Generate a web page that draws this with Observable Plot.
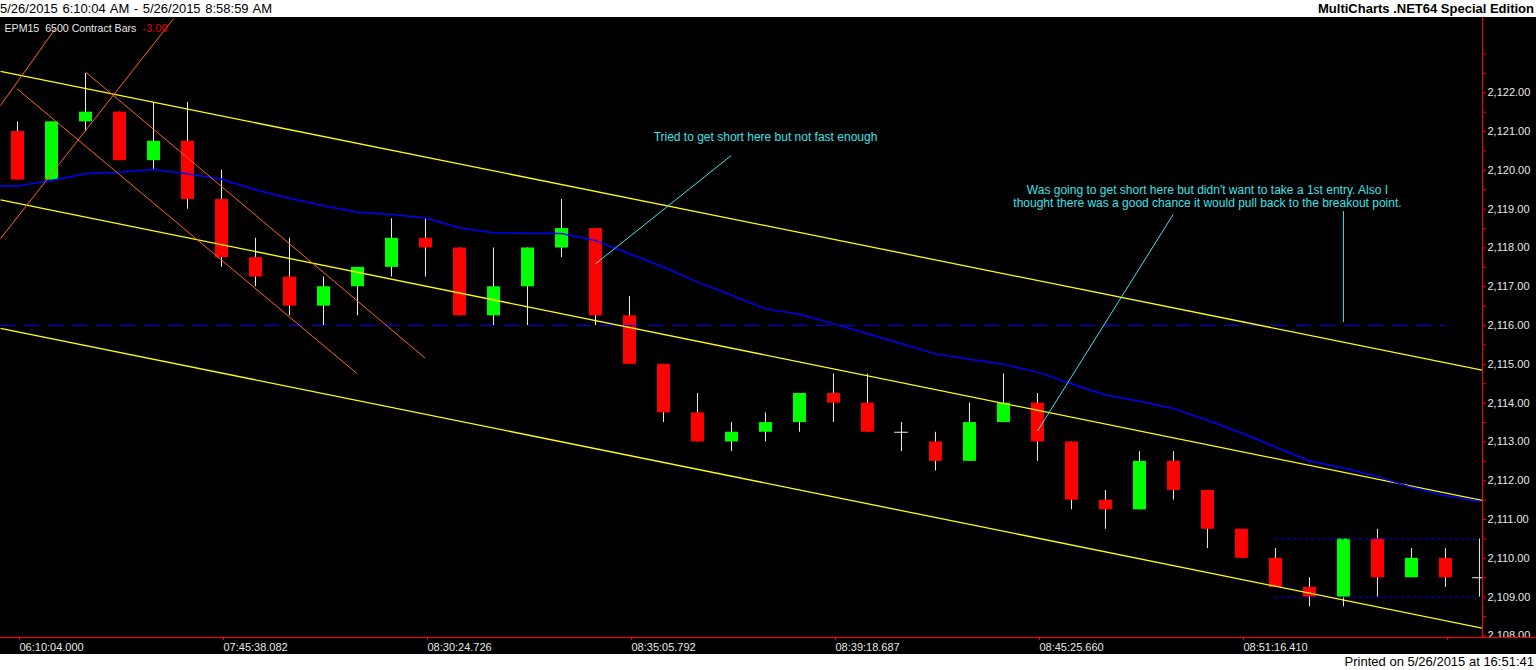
<!DOCTYPE html>
<html><head><meta charset="utf-8">
<script src="https://cdn.jsdelivr.net/npm/d3@7"></script>
<script src="https://cdn.jsdelivr.net/npm/@observablehq/plot@0.6"></script>
<style>
html,body{margin:0;padding:0;background:#fff;width:1536px;height:670px;overflow:hidden}
#hdr{height:17px;display:flex;justify-content:space-between;align-items:center;color:#000}
#hl{font:13px "Liberation Sans",Arial,sans-serif;word-spacing:1px;padding-left:0}
#hr{font:bold 13px "Liberation Sans",Arial,sans-serif;padding-right:2px}
#chart{height:637px;background:#000}
#chart svg{display:block}
#ftr{height:16px;line-height:17px;text-align:right;font:13px "Liberation Sans",Arial,sans-serif;padding-right:2px;color:#000}
</style></head><body>
<div id="hdr"><span id="hl">5/26/2015 6:10:04 AM - 5/26/2015 8:58:59 AM</span><span id="hr">MultiCharts .NET64 Special Edition</span></div>
<div id="chart"></div>
<div id="ftr">Printed on 5/26/2015 at 16:51:41</div>
<script>
// ---- data ----
const opens  = [2121,2119.75,2121.25,2121.5,2120.25,2120.75,2119.25,2117.75,2117.25,2116.5,2117,2117.5,2118.25,2118,2116.25,2117,2118,2118.5,2116.25,2115,2113.75,2113,2113.25,2113.5,2114.25,2114,2113.25,2113,2112.5,2113.5,2114,2113,2111.5,2111.25,2112.5,2111.75,2110.75,2110,2109.25,2109,2110.5,2109.5,2110,2109.5];
const highs  = [2121.25,2121.25,2122.5,2121.5,2121.75,2121.75,2120,2118.25,2118.25,2117.25,2117.5,2118.75,2118.75,2118,2118,2118,2119.25,2118.5,2116.75,2115,2114.25,2113.5,2113.75,2114.25,2114.75,2114.75,2113.5,2113.25,2114,2114.75,2114.25,2113,2111.75,2112.75,2112.75,2111.75,2110.75,2110.25,2109.5,2110.5,2110.75,2110.25,2110.25,2110.5];
const lows   = [2119.75,2119.75,2121,2120.25,2120,2119,2117.5,2117,2116.25,2116,2116.25,2117.25,2117.25,2116.25,2116,2116,2117.75,2116,2115,2113.5,2113,2112.75,2113,2113.25,2113.5,2113.25,2112.75,2112.25,2112.5,2113.5,2112.5,2111.25,2110.75,2111.25,2111.5,2110.25,2110,2109.25,2108.75,2108.75,2109,2109.5,2109.25,2109];
const closes = [2119.75,2121.25,2121.5,2120.25,2120.75,2119.25,2117.75,2117.25,2116.5,2117,2117.5,2118.25,2118,2116.25,2117,2118,2118.5,2116.25,2115,2113.75,2113,2113.25,2113.5,2114.25,2114,2113.25,2113.25,2112.5,2113.5,2114,2113,2111.5,2111.25,2112.5,2111.75,2110.75,2110,2109.25,2109,2110.5,2109.5,2110,2109.5,2109.5];

// moving average, first value belongs to the bar just left of the visible range (bar 0)
const maFirstBar = 0;
const maValues = [2119.60,2119.60,2119.74,2119.91,2119.95,2120.02,2119.91,2119.77,2119.50,2119.28,2119.09,2118.92,2118.86,2118.77,2118.52,2118.39,2118.38,2118.37,2118.19,2117.85,2117.51,2117.12,2116.78,2116.43,2116.29,2116.05,2115.79,2115.53,2115.27,2115.13,2115.00,2114.80,2114.50,2114.21,2114.05,2113.86,2113.56,2113.23,2112.87,2112.51,2112.33,2112.11,2111.83,2111.62,2111.47];

// drawn trendlines (bar index, price)
const yellowLines = [
  {x1: 0.5, y1: 2122.55, x2: 44.09, y2: 2114.85},
  {x1: 0.5, y1: 2119.24, x2: 44.09, y2: 2111.49},
  {x1: 0.5, y1: 2115.93, x2: 44.09, y2: 2108.20}
];
const orangeLines = [
  {x1: 0.5, y1: 2121.67, x2: 2.12, y2: 2123.66},
  {x1: 0.5, y1: 2118.24, x2: 5.59, y2: 2123.91},
  {x1: 0.99, y1: 2122.10, x2: 10.99, y2: 2114.76},
  {x1: 3.01, y1: 2122.53, x2: 12.98, y2: 2115.17}
];
const cyanLines = [
  {x1: 18.0, y1: 2117.59, x2: 21.99, y2: 2120.38},
  {x1: 31.0, y1: 2113.28, x2: 34.99, y2: 2118.86},
  {x1: 40.0, y1: 2116.09, x2: 40.0, y2: 2118.95}
];
const longLevels = [{price: 2116, from: 0.5, to: 43}];
const shortLevels = [{price: 2110.5, from: 38, to: 44}, {price: 2109, from: 38, to: 44}];

const annotations = [
  {bar: 23, price: 2120.85, text: "Tried to get short here but not fast enough"},
  {bar: 36, price: 2119.32, text: "Was going to get short here but didn't want to take a 1st entry. Also I\nthought there was a good chance it would pull back to the breakout point."}
];

const xTickBars = [1, 7, 13, 19, 25, 31, 37, 43];
const xTickLabels = ["06:10:04.000","07:45:38.082","08:30:24.726","08:35:05.792","08:39:18.687","08:45:25.660","08:51:16.410",""];
const yTicks = [2108,2108.5,2109,2109.5,2110,2110.5,2111,2111.5,2112,2112.5,2113,2113.5,2114,2114.5,2115,2115.5,2116,2116.5,2117,2117.5,2118,2118.5,2119,2119.5,2120,2120.5,2121,2121.5,2122,2122.5,2123];
const yLabelled = [2108,2109,2110,2111,2112,2113,2114,2115,2116,2117,2118,2119,2120,2121,2122];
const symbolLabel = "EPM15\u00a0\u00a06500 Contract Bars";
const changeLabel = "-3.00";

const xDomain = [0.5, 44.09];
const yDomain = [2107.96, 2123.94];

// ---- build ----
const bars = opens.map((o, k) => ({i: k + 1, open: o, high: highs[k], low: lows[k], close: closes[k]}));
const maData = maValues.map((v, k) => ({bar: maFirstBar + k, value: v}));
const fmt = d3.format(",.2f");
const labelled = new Set(yLabelled);

const W = 1536, H = 637, MR = 54, MB = 17;
const wick = "#f0eeee";
const seg = {x1: "x1", y1: "y1", x2: "x2", y2: "y2"};

const svg = Plot.plot({
  width: W, height: H,
  marginTop: 0, marginRight: MR, marginBottom: MB, marginLeft: 0,
  x: {domain: xDomain},
  y: {domain: yDomain},
  style: {background: "#000", color: "#e8e8e8", fontFamily: "'Liberation Sans', Arial, sans-serif", fontSize: "11px", overflow: "visible"},
  marks: [
    Plot.ruleX(bars, {x: "i", y1: "low", y2: "high", stroke: wick, strokeWidth: 1, clip: true}),
    Plot.ruleX(bars.filter(d => d.close < d.open), {x: "i", y1: "open", y2: "close", stroke: "#ff0000", strokeWidth: 13, clip: true}),
    Plot.ruleX(bars.filter(d => d.close > d.open), {x: "i", y1: "open", y2: "close", stroke: "#00ff00", strokeWidth: 13, clip: true}),
    Plot.ruleY(bars.filter(d => d.close === d.open), {y: "close", x1: d => d.i - 0.2, x2: d => d.i + 0.2, stroke: wick, strokeWidth: 1, clip: true}),
    Plot.ruleY(longLevels, {y: "price", x1: "from", x2: "to", stroke: "#0000ff", strokeWidth: 1, strokeDasharray: "15,9", clip: true}),
    Plot.ruleY(shortLevels, {y: "price", x1: "from", x2: "to", stroke: "#0000ff", strokeWidth: 1, strokeDasharray: "3,3", clip: true}),
    Plot.link(yellowLines, {...seg, stroke: "#ffff00", strokeWidth: 1.3, clip: true}),
    Plot.line(maData, {x: "bar", y: "value", stroke: "#0000ff", strokeWidth: 1.5, clip: true}),
    Plot.link(orangeLines, {...seg, stroke: "#ff6420", strokeWidth: 1, clip: true}),
    Plot.link(cyanLines, {...seg, stroke: "#40e0e8", strokeWidth: 1, clip: true}),
    Plot.text(annotations, {x: "bar", y: "price", text: "text", fill: "#40e0e8", fontSize: 12, lineHeight: 1.06, textAnchor: "middle", lineAnchor: "middle"}),
    Plot.text([symbolLabel], {text: d => d, frameAnchor: "top-left", dx: 4, dy: 7, textAnchor: "start", lineAnchor: "top", fill: "#e6e6e6", fontSize: 10.6}),
    Plot.text([changeLabel], {text: d => d, frameAnchor: "top-left", dx: 142, dy: 7, textAnchor: "start", lineAnchor: "top", fill: "#e00000", fontSize: 11}),
    Plot.ruleX([xDomain[1]], {stroke: "#ff0000", strokeWidth: 1}),
    Plot.axisY({ticks: yTicks, anchor: "right", tickSize: 3, tickPadding: 2, tickFormat: d => labelled.has(d) ? fmt(d) : "", stroke: "#ff0000", fill: "#e8e8e8", fontSize: 11, label: null}),
    Plot.axisX({ticks: xTickBars, anchor: "bottom", tickSize: 3, tickPadding: 3, tickFormat: d => xTickLabels[xTickBars.indexOf(d)], textAnchor: "start", dx: 2, stroke: "#ff0000", fill: "#e8e8e8", fontSize: 11, label: null})
  ]
});

// axis chrome: black strip under the price scale and the bottom axis line across the full width
const s = d3.select(svg);
s.append("rect").attr("x", W - MR).attr("y", H - MB).attr("width", MR).attr("height", MB).attr("fill", "#000");
s.append("line").attr("x1", 0).attr("x2", W).attr("y1", H - MB + 0.5).attr("y2", H - MB + 0.5).attr("stroke", "#ff0000");
document.getElementById("chart").appendChild(svg);
</script>
</body></html>
